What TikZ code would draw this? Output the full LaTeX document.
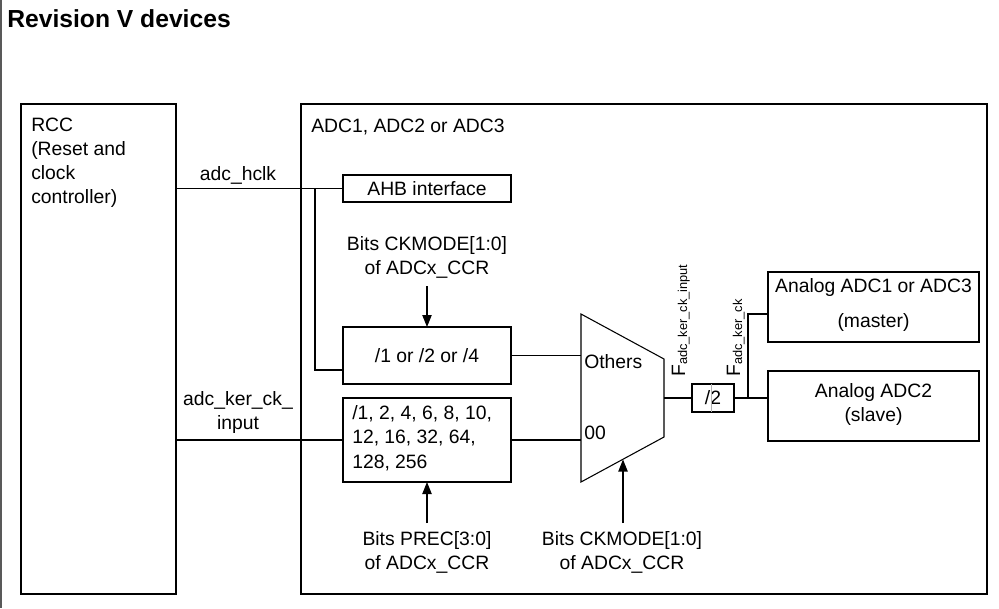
\documentclass[tikz,border=0pt]{standalone}
\usepackage{fontspec}
\setmainfont{Liberation Sans}
\usetikzlibrary{arrows.meta,fit}
\begin{document}
\begin{tikzpicture}[x=0.75pt,y=-0.75pt,
  thickbox/.style={draw, line width=2pt, inner sep=0pt, outer sep=0pt},
  thinbox/.style={draw, line width=1pt, inner sep=0pt, outer sep=0pt},
  wire/.style={line width=0.8pt},
  arr/.style={wire, -{Triangle[length=9pt,width=7pt]}},
  txt/.style={inner sep=0pt, font=\fontsize{14.5}{18}\selectfont, align=center},
  sublabel/.style={inner sep=0pt, rotate=90, anchor=base west, font=\fontsize{14.5}{18}\selectfont},
  ]
\useasboundingbox (0,0) rectangle (999,608);
\fill[white] (0,0) rectangle (999,608);
\draw[gray!70!black, line width=1pt] (1,0) -- (1,608);
\node[anchor=base west, inner sep=0pt, font=\fontsize{18.5}{22}\selectfont\bfseries] (title) at (7,27) {Revision V devices};

% big boxes
\node[thickbox, fit={(21,104)(176,594)}] (rcc) {};
\node[thickbox, fit={(301,104)(987,594)}] (adc) {};
\node[txt, align=left, anchor=north west] (rcctxt) at (31,118) {RCC\\(Reset and\\clock\\controller)};
\node[txt, anchor=north west] (adctxt) at (311,119) {ADC1, ADC2 or ADC3};

% inner boxes
\node[thinbox, fit={(343,175)(511,202)}] (ahb) {};
\node[txt] (ahbtxt) at (ahb.center) {AHB interface};
\node[thinbox, fit={(343,327)(511,384)}] (div124) {};
\node[txt] (divtxt) at (div124.center) {/1 or /2 or /4};
\node[thinbox, fit={(343,398)(511,482)}] (prec) {};
\node[txt, align=left, anchor=north west, font=\fontsize{14.5}{18.4}\selectfont] (prectxt) at (352,405) {/1, 2, 4, 6, 8, 10,\\12, 16, 32, 64,\\128, 256};
\node[thinbox, fit={(692,384)(734,412)}] (half) {};
\node[txt] (halftxt) at (half.center) {/2};
\draw[gray!60, line width=0.4pt] (711,384) -- (711,412);
\node[thinbox, fit={(768,272)(979,342)}] (master) {};
\node[txt] (mastertxt) at ([yshift=1.5pt]master.center) {Analog ADC1 or ADC3\\[8pt](master)};
\node[thinbox, fit={(768,371)(979,441)}] (slave) {};
\node[txt] (slavetxt) at ([yshift=1pt]slave.center) {Analog ADC2\\(slave)};

% mux
\draw[line width=0.8pt] (581,314) -- (664,359) -- (664,437) -- (581,482) -- cycle;
\coordinate (muxothers) at (581,356);
\coordinate (mux00) at (581,440);
\coordinate (muxout) at (664,398);
\coordinate (muxbot) at (623,459.5);
\node[txt, anchor=west] (lothers) at (584,362) {Others};
\node[txt, anchor=west] (l00) at (584,433) {00};

% labels
\node[txt] (lhclk) at (238,175) {adc\_hclk};
\node[txt] (lker) at (238,412) {adc\_ker\_ck\_\\input};
\node[txt] (ckm1) at (427,257) {Bits CKMODE[1:0]\\of ADCx\_CCR};
\node[txt] (precl) at (427,552) {Bits PREC[3:0]\\of ADCx\_CCR};
\node[txt] (ckm2) at (622,552) {Bits CKMODE[1:0]\\of ADCx\_CCR};
\node[sublabel] (fin) at (685,377) {F\raisebox{-1.5pt}{\fontsize{9.6}{10}\selectfont adc\_ker\_ck\_input}};
\node[sublabel] (fker) at (740,377) {F\raisebox{-1.5pt}{\fontsize{9.6}{10}\selectfont adc\_ker\_ck}};

% connectors
\coordinate (br1) at (315,188.5);
\coordinate (br2) at (315,370);
\draw[wire] (rcc.east |- ahb.west) -- (ahb.west);
\draw[wire] (br1) -- (br2) -- (div124.west |- br2);
\draw[wire] (rcc.east |- prec.west) -- (prec.west);
\draw[wire] (div124.east) -- (muxothers |- div124.east);
\draw[wire] (prec.east) -- (mux00 |- prec.east);
\draw[wire] (muxout) -- (half.west);
\draw[wire] (half.east) -- (slave.west |- half.east);
\coordinate (brk) at (748,398);
\coordinate (brk2) at (748,314);
\draw[wire] (brk) -- (brk2) -- (master.west |- brk2);
\coordinate (a1) at (427,286);
\coordinate (a2) at (427,523);
\coordinate (a3) at (623,523);
\draw[arr] (a1) -- (div124.north);
\draw[arr] (a2) -- (prec.south);
\draw[arr] (a3) -- (muxbot);
\end{tikzpicture}
\end{document}
